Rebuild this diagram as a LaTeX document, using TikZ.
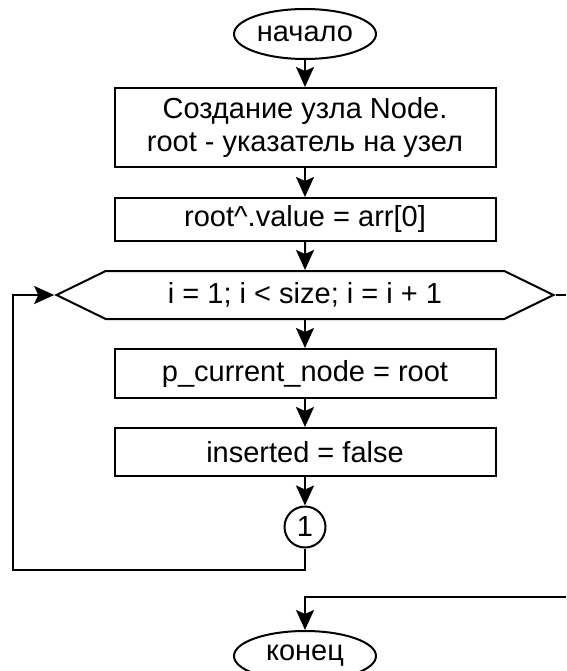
\documentclass[tikz,border=0pt]{standalone}
\usepackage{fontspec}
\setmainfont{Liberation Sans}
\usetikzlibrary{arrows.meta,shapes.geometric,shapes.symbols}

\begin{document}
\begin{tikzpicture}[x=1pt,y=-1pt,line width=2pt,
  font=\fontsize{29}{33}\selectfont,
  term/.style={draw,ellipse,minimum width=142pt,minimum height=50pt},
  proc/.style={draw,rectangle,minimum width=381pt,align=center},
  loopsig/.style={draw,signal,signal to=west and east,signal pointer angle=52,
    minimum width=497pt,minimum height=48pt},
  conn/.style={draw,circle,minimum size=41pt},
  flow/.style={-{Stealth[length=20pt,width=18pt,inset=4pt]}}]
\tikzstyle{every node}+=[inner sep=0pt]
\useasboundingbox (0,0) rectangle (566,671);
\node [term] (start) at (305,34) {начало};
\node [proc,minimum height=79pt] (create) at (305,127.5) {Создание узла Node.\\root - указатель на узел};
\node [proc,minimum height=43pt] (val) at (305,219.5) {root\textasciicircum.value = arr[0]};
\node [loopsig] (loop) at (305,295) {i = 1; i < size; i = i + 1};
\node [proc,minimum height=49pt] (cur) at (305,373.5) {p\_current\_node = root};
\node [proc,minimum height=48pt] (ins) at (305,452) {inserted = false};
\node [conn] (c1) at (305,527) {1};
\node [term] (stop) at (305,656) {конец};
\coordinate (back) at (13,570);
\coordinate (outR) at (566,295);
\coordinate (inR) at (566,597);
\draw [flow] (start) -- (create);
\draw [flow] (create) -- (val);
\draw [flow] (val) -- (loop);
\draw [flow] (loop) -- (cur);
\draw [flow] (cur) -- (ins);
\draw [flow] (ins) -- (c1);
\draw [flow] (c1) |- (back) |- (loop.west);
\draw (loop.east) -- (outR);
\draw [flow] (inR) -| (stop);
\end{tikzpicture}
\end{document}
